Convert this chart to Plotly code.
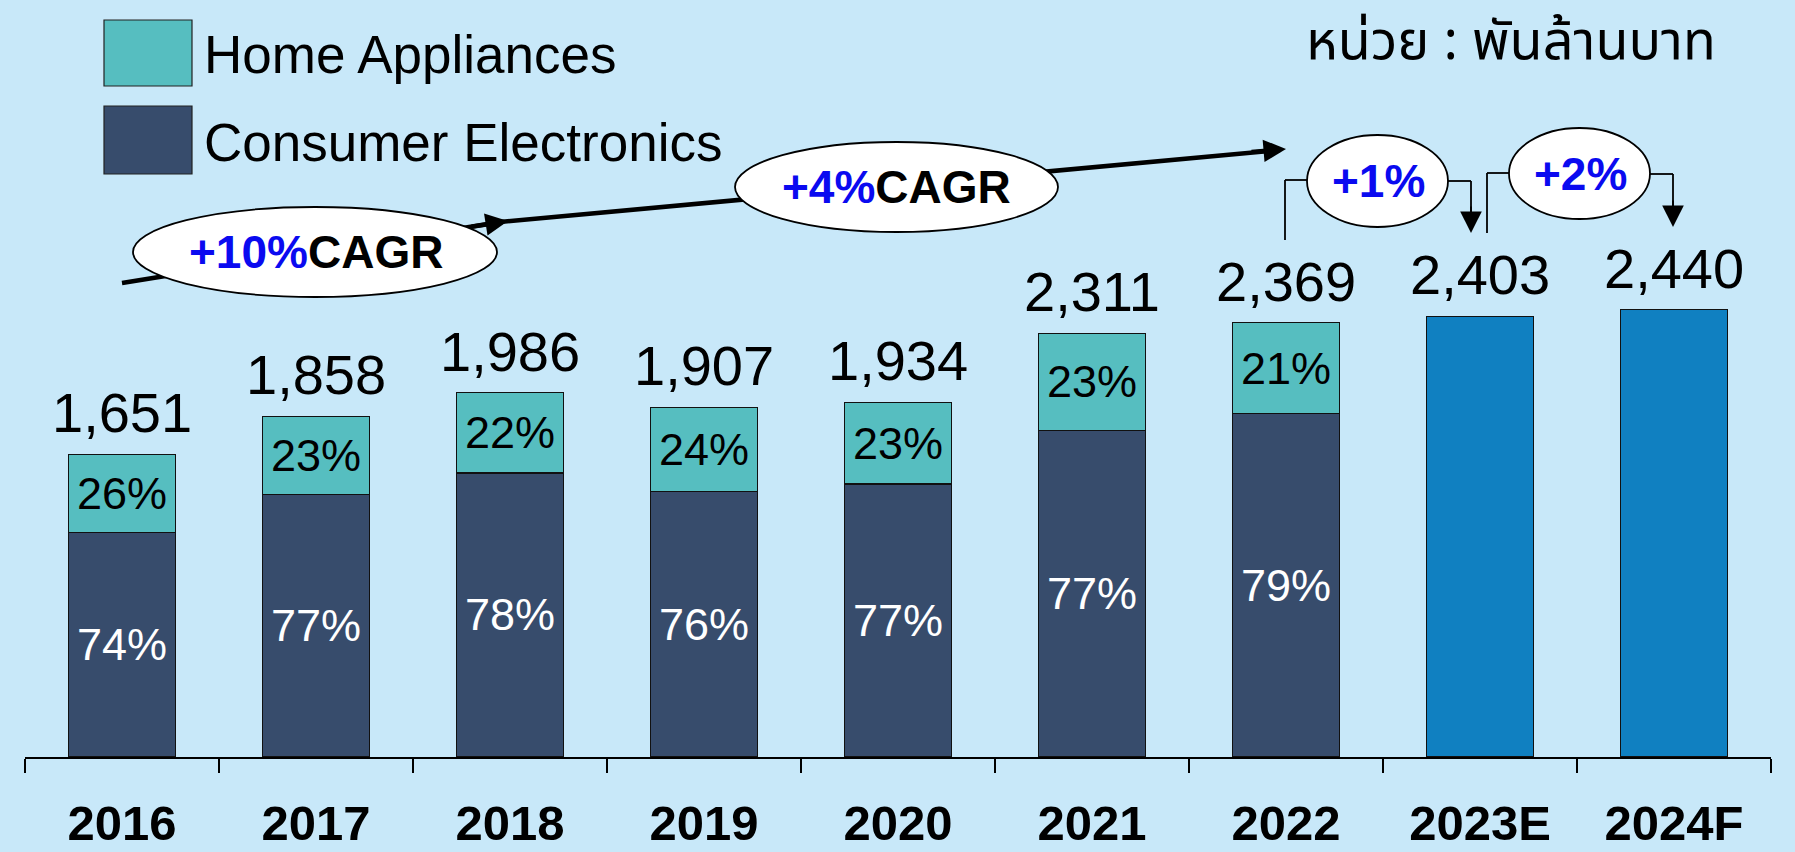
import plotly.graph_objects as go

# ---------------- data ----------------
years = ["2016", "2017", "2018", "2019", "2020", "2021", "2022", "2023E", "2024F"]
totals = [1651, 1858, 1986, 1907, 1934, 2311, 2369, 2403, 2440]
hist_years = ["2016", "2017", "2018", "2019", "2020", "2021", "2022"]
consumer_elec = [1222, 1431, 1549, 1449, 1489, 1779, 1872]
home_appl = [429, 427, 437, 458, 445, 532, 497]
consumer_pct = ["74%", "77%", "78%", "76%", "77%", "77%", "79%"]
home_pct = ["26%", "23%", "22%", "24%", "23%", "23%", "21%"]
fc_years = ["2023E", "2024F"]
fc_values = [2403, 2440]
cagr_labels = [("+10%", "CAGR"), ("+4%", "CAGR")]
growth_labels = ["+1%", "+2%"]
unit_text = "หน่วย : พันล้านบาท"
legend_names = ["Home Appliances", "Consumer Electronics"]

# ---------------- style ----------------
BG = "#C8E8F9"
TEAL = "#56BEC0"
NAVY = "#374C6C"
BLUE = "#1080C1"
FONT = "Liberation Sans, Arial, sans-serif"

W, H = 1795, 852
L, R, T, B = 25, 24, 0, 95
PW = W - L - R
PH = H - T - B
PX_PER_UNIT = 0.1834
YMAX = PH / PX_PER_UNIT
NCAT = len(years)
CATW = PW / NCAT


def dx(xp):
    return (xp - L) / CATW - 0.5


def dy(yp):
    return (T + PH - yp) / PX_PER_UNIT


def ppx(xp):
    return (xp - L) / PW


def ppy(yp):
    return (T + PH - yp) / PH


fig = go.Figure()
fig.add_trace(go.Bar(
    x=hist_years, y=consumer_elec, name=legend_names[1],
    marker=dict(color=NAVY, line=dict(color="#111111", width=1.2)),
    text=consumer_pct, textposition="inside", insidetextanchor="middle",
    textfont=dict(family=FONT, size=45, color="white"), width=0.55,
    showlegend=False,
))
fig.add_trace(go.Bar(
    x=hist_years, y=home_appl, name=legend_names[0],
    marker=dict(color=TEAL, line=dict(color="#111111", width=1.2)),
    text=home_pct, textposition="inside", insidetextanchor="middle",
    textfont=dict(family=FONT, size=45, color="black"), width=0.55,
    showlegend=False,
))
fig.add_trace(go.Bar(
    x=fc_years, y=fc_values, name="Forecast",
    marker=dict(color=BLUE, line=dict(color="#111111", width=1.2)),
    width=0.55, showlegend=False,
))

annotations = []
for i, tot in enumerate(totals):
    annotations.append(dict(
        x=i, y=tot, xref="x", yref="y", text=f"{tot:,}", showarrow=False,
        yanchor="bottom", yshift=8, font=dict(family=FONT, size=56, color="black"),
    ))

shapes = []
# CAGR trend line segments (drawn below ellipses)
seg_pts = [(122, 283), (500, 222), (1280, 150)]
for (x0, y0), (x1, y1) in zip(seg_pts[:-1], seg_pts[1:]):
    shapes.append(dict(type="line", xref="x", yref="y",
                       x0=dx(x0), y0=dy(y0), x1=dx(x1), y1=dy(y1),
                       line=dict(color="black", width=4.5), layer="above"))

# bracket lines for growth
brackets = [
    [(1285, 240), (1285, 180), (1310, 180)],
    [(1446, 181), (1471, 181), (1471, 222)],
    [(1487, 233), (1487, 173), (1512, 173)],
    [(1648, 174), (1673, 174), (1673, 215)],
]
for pts in brackets:
    for (x0, y0), (x1, y1) in zip(pts[:-1], pts[1:]):
        shapes.append(dict(type="line", xref="x", yref="y",
                           x0=dx(x0), y0=dy(y0), x1=dx(x1), y1=dy(y1),
                           line=dict(color="black", width=1.8), layer="above"))

# ellipses
ellipses = [
    (133, 207, 497, 297),
    (735, 142, 1058, 232),
    (1307, 135, 1448, 227),
    (1509, 128, 1650, 219),
]
for (x0, y0, x1, y1) in ellipses:
    shapes.append(dict(type="circle", xref="x", yref="y",
                       x0=dx(x0), y0=dy(y1), x1=dx(x1), y1=dy(y0),
                       fillcolor="white", line=dict(color="black", width=1.8),
                       layer="above"))

# arrowheads
heads = [((508, 221), (470, 227), 4.5, 1.0), ((1286, 149), (1250, 152), 4.5, 1.0),
         ((1471, 233), (1471, 205), 1.8, 2.4), ((1673, 227), (1673, 199), 1.8, 2.4)]
for (hx, hy), (tx, ty), w, s in heads:
    annotations.append(dict(x=dx(hx), y=dy(hy), ax=dx(tx), ay=dy(ty),
                            xref="x", yref="y", axref="x", ayref="y",
                            showarrow=True, arrowhead=2, arrowsize=s, arrowwidth=w,
                            arrowcolor="black", text=""))

# ellipse labels
cagr_centers = [(316, 252), (896, 187)]
for (blue, black), (cx, cy) in zip(cagr_labels, cagr_centers):
    annotations.append(dict(x=dx(cx), y=dy(cy), xref="x", yref="y", showarrow=False,
                            xanchor="center", yanchor="middle",
                            text=f"<span style='color:#0A0AF0'>{blue}</span>{black}",
                            font=dict(family=FONT, size=46, color="black", weight="bold")))
growth_centers = [(1378, 181), (1580, 174)]
for lab, (cx, cy) in zip(growth_labels, growth_centers):
    annotations.append(dict(x=dx(cx), y=dy(cy), xref="x", yref="y", showarrow=False,
                            xanchor="center", yanchor="middle", text=lab,
                            font=dict(family=FONT, size=46, color="#0A0AF0", weight="bold")))

# legend
leg = [(legend_names[0], TEAL, 20, 86), (legend_names[1], NAVY, 106, 174)]
for name, col, y0, y1 in leg:
    shapes.append(dict(type="rect", xref="paper", yref="paper",
                       x0=ppx(104), x1=ppx(192), y0=ppy(y1), y1=ppy(y0),
                       fillcolor=col, line=dict(color="#222222", width=1.2)))
    annotations.append(dict(x=ppx(202), y=ppy((y0 + y1) / 2 + 2), xref="paper", yref="paper",
                            xanchor="left", yanchor="middle", showarrow=False, text=name,
                            font=dict(family=FONT, size=53, color="black")))

# unit text
annotations.append(dict(x=ppx(1718), y=ppy(42), xref="paper", yref="paper",
                        xanchor="right", yanchor="middle", showarrow=False, text=unit_text,
                        font=dict(family="Noto Sans Thai, Loma, Garuda, sans-serif",
                                  size=54, color="black")))

fig.update_layout(
    width=W, height=H, barmode="stack", bargap=0.45,
    paper_bgcolor=BG, plot_bgcolor=BG,
    margin=dict(l=L, r=R, t=T, b=B, autoexpand=False),
    shapes=shapes, annotations=annotations,
    uniformtext=dict(minsize=45, mode="show"),
    xaxis=dict(type="category", categoryorder="array", categoryarray=years,
               range=[-0.5, NCAT - 0.5], showline=True, linecolor="black", linewidth=2,
               ticks="outside", tickson="boundaries", ticklen=14, tickwidth=1.8,
               tickcolor="black", ticklabelstandoff=22, automargin=False,
               tickfont=dict(family=FONT, size=49, color="black", weight="bold"),
               showgrid=False, zeroline=False),
    yaxis=dict(range=[0, YMAX], visible=False, showgrid=False, zeroline=False,
               automargin=False),
)

post = (
    "document.documentElement.style.margin='0';"
    "document.documentElement.style.overflow='hidden';"
    "document.body.style.margin='0';"
    "document.body.style.overflow='hidden';"
    "document.body.style.background='%s';"
    "window.scrollTo(0,0);" % BG
)
fig.write_html("out.html", config={"displayModeBar": False}, post_script=post)
